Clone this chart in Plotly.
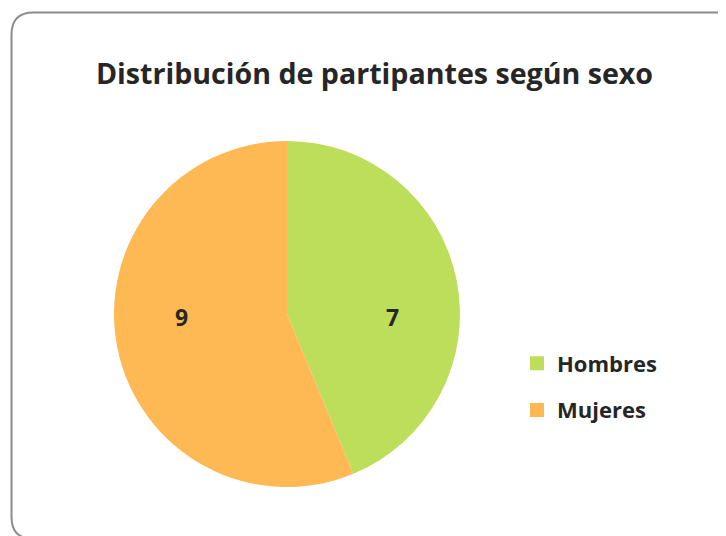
import math
import plotly.graph_objects as go

labels = ["Hombres", "Mujeres"]
values = [7, 9]
colors = ["#BDDE5A", "#FEB854"]
title_text = "Distribución de partipantes según sexo"

W, H = 726, 536
OFF = 8  # browser body margin

def px(x):
    return (x - OFF) / W

def py(y):
    return 1 - (y - OFF) / H

CX, CY, R = 287, 314, 173

fig = go.Figure()
fig.add_trace(go.Pie(
    labels=labels,
    values=values,
    sort=False,
    direction="clockwise",
    rotation=0,
    marker=dict(colors=colors, line=dict(width=0)),
    textinfo="none",
    domain=dict(x=[px(CX - R), px(CX + R)], y=[py(CY + R), py(CY - R)]),
    hoverinfo="label+value",
    showlegend=False,
))

# data labels placed along each slice's bisector (horizontal projection)
total = sum(values)
cum = 0
annotations = []
for v in values:
    mid = (cum + v / 2) / total * 2 * math.pi
    cum += v
    lx = CX + 0.62 * R * math.sin(mid)
    ly = CY + 3
    annotations.append(dict(text=str(v), x=px(lx), y=py(ly), xref="paper", yref="paper",
                            showarrow=False, xanchor="center", yanchor="middle",
                            font=dict(family="Open Sans", size=23, color="#262626", weight="bold")))

# legend entries (one per category) via empty traces
for i, (lab, col) in enumerate(zip(labels, colors)):
    fig.add_trace(go.Scatter(x=[None], y=[None], mode="markers", name=lab,
                             legendgroup=lab,
                             marker=dict(symbol="square", size=14, color=col),
                             hoverinfo="skip"))

# rounded border
r = 22
x0, y0, x1, y1 = 11.5, 12.5, 739, 539
path = (f"M {px(x0+r)},{py(y0)} L {px(x1-r)},{py(y0)} Q {px(x1)},{py(y0)} {px(x1)},{py(y0+r)} "
        f"L {px(x1)},{py(y1-r)} Q {px(x1)},{py(y1)} {px(x1-r)},{py(y1)} "
        f"L {px(x0+r)},{py(y1)} Q {px(x0)},{py(y1)} {px(x0)},{py(y1-r)} "
        f"L {px(x0)},{py(y0+r)} Q {px(x0)},{py(y0)} {px(x0+r)},{py(y0)} Z")

fig.update_layout(
    width=W, height=H,
    margin=dict(l=0, r=0, t=0, b=0),
    paper_bgcolor="white",
    plot_bgcolor="white",
    xaxis=dict(visible=False),
    yaxis=dict(visible=False),
    title=dict(text=title_text, x=px(374.5), xanchor="center", y=py(74), yanchor="middle",
               font=dict(family="Open Sans", size=28.6, color="#262626", weight="bold")),
    shapes=[dict(type="path", path=path, xref="paper", yref="paper",
                 line=dict(color="#8C8C8C", width=2), fillcolor="rgba(0,0,0,0)")],
    annotations=annotations,
    legend=dict(x=px(517), y=py(387), xanchor="left", yanchor="middle",
                font=dict(family="Open Sans", size=22, color="#262626", weight="bold"),
                bgcolor="rgba(0,0,0,0)", itemwidth=30, tracegroupgap=15,
                traceorder="grouped"),
    showlegend=True,
)

fig.write_html("out.html")
